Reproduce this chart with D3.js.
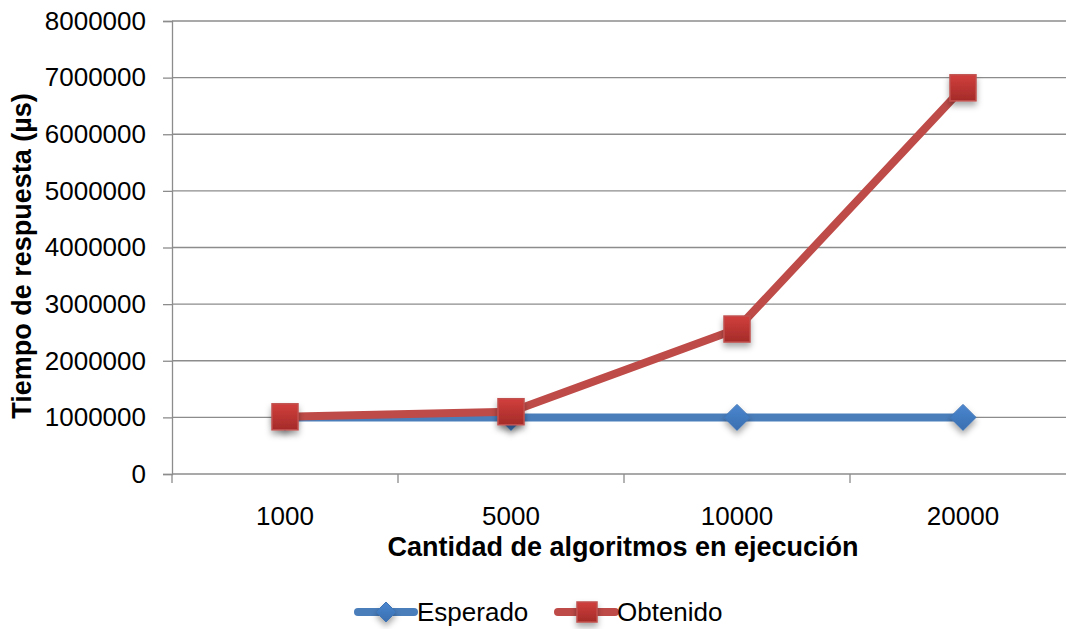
<!DOCTYPE html>
<html>
<head>
<meta charset="utf-8">
<script src="https://cdn.jsdelivr.net/npm/d3@7"></script>
<style>
  body { margin: 0; background: #fff; }
  svg { display: block; font-family: "Liberation Sans", Arial, sans-serif; }
</style>
</head>
<body>
<script>
// datos
let categorias = ['1000', '5000', '10000', '20000']
let esperado = [1000000, 1000000, 1000000, 1000000]
let obtenido = [1010000, 1100000, 2560000, 6820000]
let yTicks = [0, 1000000, 2000000, 3000000, 4000000, 5000000, 6000000, 7000000, 8000000]

let W = 1066, H = 629
let mLeft = 172, mRight = 1076, mTop = 21, mBottom = 474

let svg = d3.select('body').append('svg')
  .attr('width', W)
  .attr('height', H)

let defs = svg.append('defs')
let grad = defs.append('linearGradient').attr('id', 'gRed').attr('x1', 0).attr('y1', 0).attr('x2', 0).attr('y2', 1)
grad.append('stop').attr('offset', '0%').attr('stop-color', '#d13f3c')
grad.append('stop').attr('offset', '100%').attr('stop-color', '#a42b29')
let gradB = defs.append('linearGradient').attr('id', 'gBlue').attr('x1', 0).attr('y1', 0).attr('x2', 0).attr('y2', 1)
gradB.append('stop').attr('offset', '0%').attr('stop-color', '#4a86cf')
gradB.append('stop').attr('offset', '100%').attr('stop-color', '#3a6fb0')
let sh = defs.append('filter').attr('id', 'sombra').attr('x', '-50%').attr('y', '-50%').attr('width', '200%').attr('height', '200%')
sh.append('feDropShadow').attr('dx', 0).attr('dy', 4).attr('stdDeviation', 3).attr('flood-color', '#000').attr('flood-opacity', 0.35)

let xScale = d3.scaleBand().domain(categorias).range([mLeft, mRight])
let yScale = d3.scaleLinear().domain([0, 8000000]).range([mBottom, mTop])

// líneas de cuadrícula
svg.append('g').selectAll('line')
  .data(yTicks.slice(1))
  .enter().append('line')
  .attr('x1', mLeft).attr('x2', mRight)
  .attr('y1', d => yScale(d)).attr('y2', d => yScale(d))
  .attr('stroke', '#8c8c8c').attr('stroke-width', 1.3)

// eje y
let yAxis = svg.append('g')
  .attr('transform', 'translate(' + mLeft + ',0)')
  .call(d3.axisLeft(yScale).tickValues(yTicks).tickFormat(d3.format('d')).tickSize(9).tickPadding(17))
yAxis.selectAll('path, line').attr('stroke', '#8c8c8c').attr('stroke-width', 1.3)
yAxis.selectAll('text').attr('font-size', '26px').attr('fill', '#000').attr('font-family', '"Liberation Sans", Arial, sans-serif')

// eje x
let bordes = d3.range(categorias.length + 1).map(i => mLeft + i * xScale.bandwidth())
let xAxis = svg.append('g')
xAxis.append('line').attr('x1', mLeft).attr('x2', mRight).attr('y1', mBottom).attr('y2', mBottom)
  .attr('stroke', '#8c8c8c').attr('stroke-width', 1.3)
xAxis.selectAll('.tk').data(bordes).enter().append('line')
  .attr('x1', d => d).attr('x2', d => d).attr('y1', mBottom).attr('y2', mBottom + 9)
  .attr('stroke', '#8c8c8c').attr('stroke-width', 1.3)
xAxis.selectAll('text').data(categorias).enter().append('text')
  .attr('x', d => xScale(d) + xScale.bandwidth() / 2)
  .attr('y', 525)
  .attr('text-anchor', 'middle')
  .attr('font-size', '26px')
  .text(d => d)

// títulos de ejes
svg.append('text')
  .attr('x', 623).attr('y', 556)
  .attr('text-anchor', 'middle')
  .attr('font-size', '27px').attr('font-weight', 'bold')
  .text('Cantidad de algoritmos en ejecución')
svg.append('text')
  .attr('transform', 'translate(31,256) rotate(-90)')
  .attr('text-anchor', 'middle')
  .attr('font-size', '27px').attr('font-weight', 'bold')
  .text('Tiempo de respuesta (µs)')

let cx = d => xScale(d) + xScale.bandwidth() / 2
let linea = vals => d3.line().x((d, i) => cx(categorias[i])).y(d => yScale(d))(vals)

function rombo(g, x, y, r) {
  g.append('path')
    .attr('d', 'M' + x + ',' + (y - r) + 'L' + (x + r) + ',' + y + 'L' + x + ',' + (y + r) + 'L' + (x - r) + ',' + y + 'Z')
    .attr('fill', 'url(#gBlue)').attr('stroke', '#3f74b5').attr('stroke-width', 1)
    .attr('filter', 'url(#sombra)')
}
function cuadro(g, x, y, s) {
  g.append('rect')
    .attr('x', x - s / 2).attr('y', y - s / 2).attr('width', s).attr('height', s)
    .attr('fill', 'url(#gRed)').attr('stroke', '#c0504d').attr('stroke-width', 1.5)
    .attr('filter', 'url(#sombra)')
}

// serie Esperado
svg.append('path').attr('d', linea(esperado))
  .attr('fill', 'none').attr('stroke', '#4a7ebb').attr('stroke-width', 8).attr('stroke-linejoin', 'round')
let gE = svg.append('g')
esperado.forEach((v, i) => rombo(gE, cx(categorias[i]), yScale(v), 13))

// serie Obtenido
svg.append('path').attr('d', linea(obtenido))
  .attr('fill', 'none').attr('stroke', '#be4b48').attr('stroke-width', 8).attr('stroke-linejoin', 'round')
let gO = svg.append('g')
obtenido.forEach((v, i) => cuadro(gO, cx(categorias[i]), yScale(v), 26))

// leyenda
let ley = svg.append('g')
ley.append('line').attr('x1', 358).attr('x2', 414).attr('y1', 612).attr('y2', 612)
  .attr('stroke', '#4a7ebb').attr('stroke-width', 8).attr('stroke-linecap', 'round')
rombo(ley, 386, 612, 10)
ley.append('text').attr('x', 417).attr('y', 621).attr('font-size', '26px').text('Esperado')
ley.append('line').attr('x1', 558).attr('x2', 615).attr('y1', 612).attr('y2', 612)
  .attr('stroke', '#be4b48').attr('stroke-width', 8).attr('stroke-linecap', 'round')
cuadro(ley, 587, 612, 20)
ley.append('text').attr('x', 617).attr('y', 621).attr('font-size', '26px').text('Obtenido')
</script>
</body>
</html>
